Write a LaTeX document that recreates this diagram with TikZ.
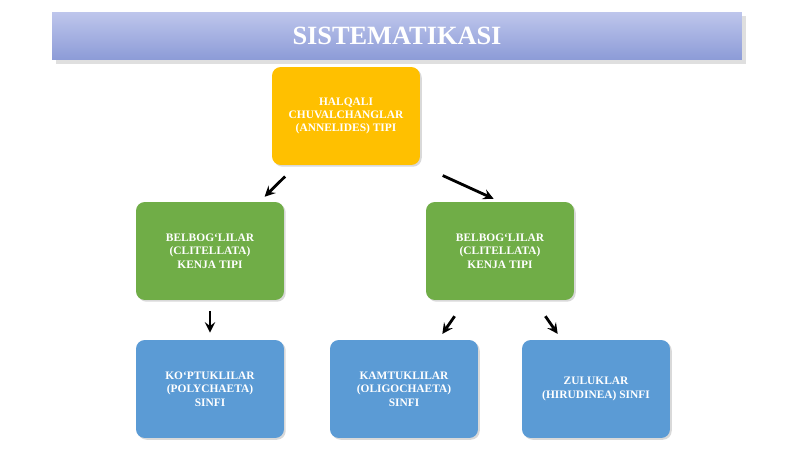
\documentclass[tikz,border=0pt]{standalone}
\usepackage{fontspec}
\setmainfont{Liberation Serif}
\usetikzlibrary{shadows}
\definecolor{boxyellow}{RGB}{255,192,0}
\definecolor{boxgreen}{RGB}{112,173,71}
\definecolor{boxblue}{RGB}{91,155,213}
\definecolor{barlight}{RGB}{190,198,236}
\definecolor{bardark}{RGB}{140,155,215}
\begin{document}
\begin{tikzpicture}[x=0.02cm,y=-0.02cm,
    box/.style={rounded corners=5pt, minimum width=2.96cm, minimum height=1.96cm,
      align=center, text=white, font=\fontsize{6.5}{7.6}\selectfont\bfseries,
      drop shadow={opacity=0.3, shadow xshift=1pt, shadow yshift=-1pt}},
    arr/.style={-stealth, line width=1.6pt, shorten <=9pt, shorten >=4pt}]
  \useasboundingbox (0,0) rectangle (800,449);
  % Title bar
  \node[minimum width=13.8cm, minimum height=0.96cm, top color=barlight, bottom color=bardark,
    drop shadow={opacity=0.25}, text=white, font=\fontsize{15}{18}\selectfont\bfseries] (title) at (397,36) {SISTEMATIKASI};
  % Boxes
  \node[box, fill=boxyellow] (tip) at (346,116) {HALQALI\\CHUVALCHANGLAR\\(ANNELIDES) TIPI};
  \node[box, fill=boxgreen] (kenjaA) at (210,251) {BELBOG`LILAR\\(CLITELLATA)\\KENJA  TIPI};
  \node[box, fill=boxgreen] (kenjaB) at (500,251) {BELBOG`LILAR\\(CLITELLATA)\\KENJA  TIPI};
  \node[box, fill=boxblue] (sinfA) at (210,389) {KO`PTUKLILAR\\(POLYCHAETA)\\SINFI};
  \node[box, fill=boxblue] (sinfB) at (404,389) {KAMTUKLILAR\\(OLIGOCHAETA)\\SINFI};
  \node[box, fill=boxblue] (sinfC) at (596,389) {ZULUKLAR\\(HIRUDINEA) SINFI};
  % Arrows
  \draw[arr] (tip) -- (kenjaA);
  \draw[arr, shorten <=14pt] (tip.south east) -- (kenjaB.north);
  \draw[arr, shorten <=6pt] (kenjaA) -- (sinfA);
  \draw[arr, shorten <=11pt] (kenjaB) -- (sinfB);
  \draw[arr, shorten <=11pt] (kenjaB) -- (sinfC);
\end{tikzpicture}
\end{document}
